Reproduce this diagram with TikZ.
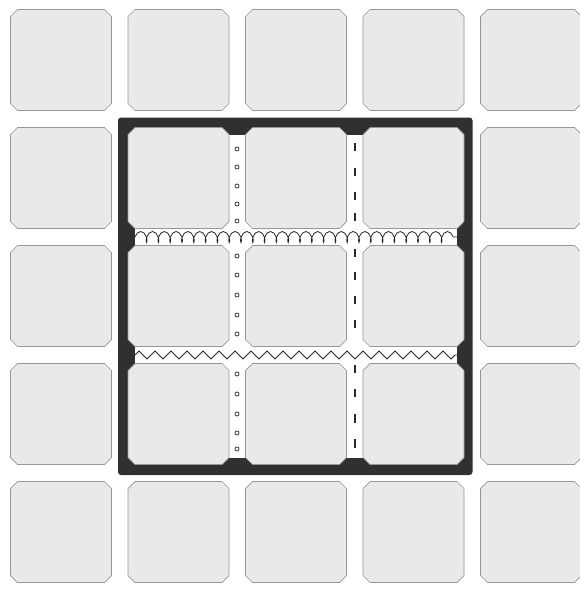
\documentclass[tikz,border=0pt]{standalone}
\usetikzlibrary{decorations.pathmorphing}
\definecolor{tilefill}{RGB}{233,233,233}
\definecolor{tileedge}{RGB}{150,150,150}
\definecolor{frameink}{RGB}{48,48,48}
\definecolor{ink}{RGB}{40,40,40}
\begin{document}
\begin{tikzpicture}[x=1pt,y=-1pt,
  tile/.style={draw=tileedge,fill=tilefill,line width=0.7pt},
  frame/.style={fill=frameink,rounded corners=3pt},
  dotmark/.style={draw=ink,line width=0.7pt},
  dashline/.style={draw=ink,line width=1.2pt},
  curlyline/.style={draw=ink,line width=0.8pt,decorate,
    decoration={coil,amplitude=5.5pt,segment length=11.8pt,aspect=0.5}},
  sawline/.style={draw=ink,line width=0.8pt,decorate,
    decoration={zigzag,amplitude=4pt,segment length=16pt}}]
\useasboundingbox (0,0) rectangle (580,589);
\fill[white] (0,0) rectangle (580,589);
% dark frame round the central 3x3 block
\fill[frame] (118,117.5) rectangle (472.5,475);
\fill[white] (135,134.5) rectangle (457,457.5);
% tiles
\foreach \i in {0,...,4}{
  \foreach \j in {0,...,4}{
    \pgfmathsetmacro\L{10.5+117.5*\i}
    \pgfmathsetmacro\T{9.5+118*\j}
    \draw[tile] (\L+7,\T) -- (\L+94,\T) -- (\L+101,\T+7) -- (\L+101,\T+94)
      -- (\L+94,\T+101) -- (\L+7,\T+101) -- (\L,\T+94) -- (\L,\T+7) -- cycle;
  }
}
% dotted divider
\foreach \y in {149,167,186,204,221,256,275,295,315,334,374,394,414,433,449}
  \draw[dotmark] (237,\y) circle (2);
% dashed divider
\foreach \a/\b in {143/151,168/176,192/200,213/221,249/257,272/280,296/304,320/328,365/373,389/397,414/423,439/448}
  \draw[dashline] (355,\a) -- (355,\b);
% curly divider
\coordinate (cl) at (135,237);
\coordinate (cr) at (459,237);
\draw[curlyline] (cl) -- (cr);
% zigzag divider
\coordinate (zl) at (135,355);
\coordinate (zr) at (457,355);
\draw[sawline] (zl) -- (zr);
\end{tikzpicture}
\end{document}
